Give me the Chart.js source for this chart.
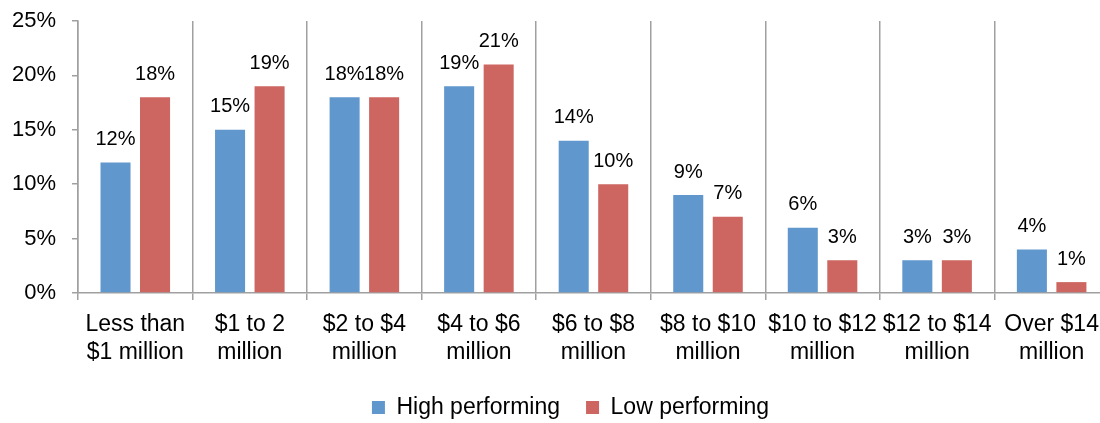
<!DOCTYPE html>
<html>
<head>
<meta charset="utf-8">
<script src="https://cdn.jsdelivr.net/npm/chart.js@4/dist/chart.umd.min.js"></script>
<style>
  html, body { margin: 0; padding: 0; background: #fff; overflow: hidden; }
  #wrap { width: 1110px; height: 423px; }
</style>
</head>
<body>
<div id="wrap"><canvas id="chart" width="1110" height="423"></canvas></div>
<script>
"use strict";

var categories = [
    ["Less than", "$1 million"],
    ["$1 to 2", "million"],
    ["$2 to $4", "million"],
    ["$4 to $6", "million"],
    ["$6 to $8", "million"],
    ["$8 to $10", "million"],
    ["$10 to $12", "million"],
    ["$12 to $14", "million"],
    ["Over $14", "million"]
];
var high_performing = [12, 15, 18, 19, 14, 9, 6, 3, 4];
var low_performing = [18, 19, 18, 21, 10, 7, 3, 3, 1];
var y_ticks = [0, 5, 10, 15, 20, 25];

var FONT = "'Liberation Sans', Arial, sans-serif";
var AXIS_GRAY = "#a0a0a0";

// draws the % value above each bar
var bar_labels = {
    id: "bar_labels",
    afterDatasetsDraw: function(chart) {
        var ctx = chart.ctx;
        ctx.save();
        ctx.font = "20px " + FONT;
        ctx.fillStyle = "#000";
        ctx.textAlign = "center";
        ctx.textBaseline = "middle";
        chart.data.datasets.forEach(function(ds, i) {
            var meta = chart.getDatasetMeta(i);
            meta.data.forEach(function(bar, j) {
                ctx.fillText(ds.data[j] + "%", bar.x, bar.y - 23);
            });
        });
        ctx.restore();
    }
};

// nudge the legend to where the original has it
var legend_shift = {
    id: "legend_shift",
    afterLayout: function(chart) {
        var lg = chart.legend;
        if (!lg) return;
        lg.left += 16; lg.right += 16;
        lg.top += 6; lg.bottom += 6;
    }
};

var chart_context = document.getElementById("chart").getContext("2d");
var chart = new Chart(chart_context, {
    type: "bar",
    data: {
        labels: categories,
        datasets: [{
            label: "High performing",
            data: high_performing,
            backgroundColor: "#6097cd",
            categoryPercentage: 0.69,
            barPercentage: 0.76
        }, {
            label: "Low performing",
            data: low_performing,
            backgroundColor: "#cd6560",
            categoryPercentage: 0.69,
            barPercentage: 0.76
        }]
    },
    options: {
        responsive: false,
        animation: false,
        layout: { padding: { left: 0, right: 1, top: 21, bottom: 0 } },
        plugins: {
            legend: {
                position: "bottom",
                labels: {
                    font: { family: FONT, size: 23 },
                    color: "#000",
                    boxWidth: 13,
                    boxHeight: 13,
                    padding: 26
                }
            },
            tooltip: { enabled: false }
        },
        scales: {
            x: {
                afterFit: function(scale) { scale.height = 71; },
                grid: {
                    offset: true,
                    color: AXIS_GRAY,
                    lineWidth: 1.5,
                    tickLength: 7
                },
                border: { color: AXIS_GRAY, width: 1.5 },
                ticks: {
                    font: { family: FONT, size: 23 },
                    color: "#000",
                    autoSkip: false,
                    maxRotation: 0,
                    minRotation: 0,
                    padding: 11
                }
            },
            y: {
                min: 0,
                max: 25,
                afterBuildTicks: function(scale) {
                    scale.ticks = y_ticks.map(function(v) { return { value: v }; });
                },
                afterFit: function(scale) {
                    scale.width = 78;
                    scale.paddingTop = 0;
                    scale.paddingBottom = 0;
                },
                grid: {
                    drawOnChartArea: false,
                    color: AXIS_GRAY,
                    lineWidth: 1.5,
                    tickLength: 6
                },
                border: { color: AXIS_GRAY, width: 1.5 },
                ticks: {
                    font: { family: FONT, size: 22 },
                    color: "#000",
                    padding: 16,
                    callback: function(v) { return v + "%"; }
                }
            }
        }
    },
    plugins: [bar_labels, legend_shift]
});
</script>
</body>
</html>
